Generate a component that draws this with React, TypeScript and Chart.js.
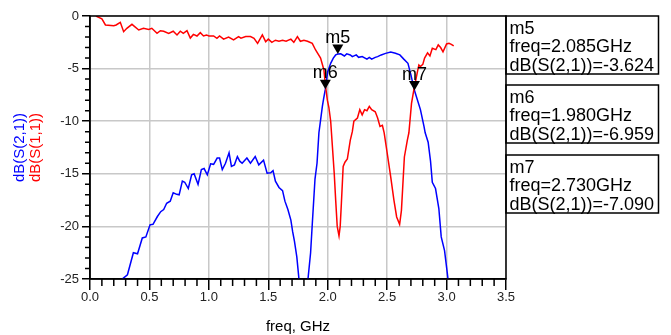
import React, { useEffect, useRef } from 'react';
import { Chart, registerables } from 'chart.js';

Chart.register(...registerables);

// ---- data ----
const s11Freq = [
  0.05, 0.10, 0.13, 0.20, 0.22, 0.255, 0.283, 0.31, 0.353, 0.41, 0.45, 0.494, 0.52, 0.564, 0.592, 0.62,
  0.662, 0.70, 0.732, 0.76, 0.785, 0.816, 0.844, 0.87, 0.90, 0.928, 0.955, 0.98, 1.0, 1.04, 1.068, 1.09,
  1.124, 1.166, 1.208, 1.25, 1.27, 1.31, 1.35, 1.38, 1.41, 1.45, 1.478, 1.50, 1.53, 1.56, 1.59, 1.62,
  1.65, 1.69, 1.715, 1.745, 1.77, 1.80, 1.83, 1.87, 1.898, 1.94, 1.968, 1.982, 1.997, 2.01, 2.025, 2.04,
  2.055, 2.067, 2.08, 2.095, 2.105, 2.115, 2.13, 2.145, 2.165, 2.19, 2.207, 2.22, 2.25, 2.27, 2.29, 2.31,
  2.33, 2.35, 2.37, 2.40, 2.42, 2.44, 2.46, 2.475, 2.50, 2.53, 2.557, 2.58, 2.605, 2.62, 2.63, 2.645,
  2.67, 2.683, 2.705, 2.725, 2.753, 2.767, 2.78, 2.80, 2.815, 2.84, 2.86, 2.88, 2.91, 2.93, 2.95, 2.97,
  3.0, 3.02, 3.04, 3.06,
];
const s11Db = [
  0.0, -0.28, -0.85, -0.92, -0.85, -0.6, -1.49, -1.17, -0.79, -1.33, -1.17, -1.27, -1.17, -1.65, -1.4, -1.45,
  -1.65, -1.45, -1.8, -1.45, -1.65, -1.4, -2.1, -1.75, -1.9, -1.58, -1.9, -1.8, -1.9, -1.9, -2.12, -1.9,
  -2.2, -2.0, -2.28, -1.96, -2.1, -1.95, -1.96, -2.12, -2.6, -1.8, -2.44, -2.2, -2.5, -2.3, -2.4, -2.3,
  -2.4, -2.2, -2.5, -1.96, -2.4, -2.3, -2.4, -2.6, -3.23, -4.0, -5.13, -6.7, -8.0, -8.7, -10.0, -12.5,
  -15.0, -17.5, -20.0, -20.9, -20.0, -17.8, -14.3, -13.9, -13.6, -11.8, -11.0, -10.0, -9.7, -8.9, -9.4, -8.9,
  -9.0, -8.6, -8.9, -9.1, -9.7, -10.5, -10.4, -11.1, -13.0, -15.3, -17.5, -19.1, -19.8, -18.5, -16.5, -13.4,
  -11.8, -11.1, -8.3, -7.0, -5.4, -4.65, -4.8, -4.6, -4.0, -3.5, -3.8, -3.07, -3.2, -2.75, -3.0, -3.4,
  -2.66, -2.6, -2.7, -2.85,
];
const s21Freq = [
  0.25, 0.272, 0.315, 0.365, 0.40, 0.44, 0.47, 0.505, 0.53, 0.567, 0.595, 0.62, 0.645, 0.675, 0.70, 0.73,
  0.75, 0.777, 0.797, 0.827, 0.855, 0.876, 0.909, 0.937, 0.96, 0.987, 1.015, 1.04, 1.07, 1.09, 1.113, 1.14,
  1.17, 1.19, 1.215, 1.24, 1.26, 1.28, 1.32, 1.35, 1.39, 1.42, 1.46, 1.49, 1.52, 1.54, 1.56, 1.59,
  1.62, 1.64, 1.665, 1.69, 1.705, 1.72, 1.74, 1.758, 1.775, 1.82, 1.834, 1.856, 1.87, 1.893, 1.91, 1.926,
  1.94, 1.955, 1.965, 1.98, 2.0, 2.025, 2.047, 2.067, 2.085, 2.11, 2.14, 2.16, 2.19, 2.207, 2.24, 2.26,
  2.29, 2.33, 2.35, 2.37, 2.40, 2.42, 2.45, 2.487, 2.53, 2.57, 2.607, 2.64, 2.675, 2.70, 2.73, 2.78,
  2.81, 2.82, 2.845, 2.865, 2.88, 2.907, 2.935, 2.955, 2.983, 3.01, 3.02,
];
const s21Db = [
  -26.5, -25.0, -24.6, -22.5, -22.6, -21.1, -21.0, -19.85, -19.8, -19.06, -18.6, -18.4, -17.8, -17.6, -16.8, -16.95,
  -17.0, -15.7, -15.8, -16.4, -15.1, -15.0, -16.0, -14.6, -14.5, -15.1, -14.05, -14.1, -13.5, -13.5, -14.6, -14.0,
  -13.0, -14.3, -14.15, -13.36, -13.8, -14.0, -13.5, -14.0, -13.36, -14.15, -13.7, -14.94, -14.9, -14.7, -15.7, -16.3,
  -16.6, -17.6, -18.4, -19.4, -20.5, -21.4, -22.9, -25.0, -28.0, -28.0, -25.0, -22.5, -19.8, -15.5, -14.0, -11.1,
  -9.9, -8.6, -7.9, -6.96, -5.3, -4.5, -4.0, -3.7, -3.62, -3.6, -3.8, -3.6, -3.7, -3.86, -3.7, -3.93,
  -3.86, -4.1, -3.93, -4.1, -3.93, -3.86, -3.7, -3.55, -3.43, -3.54, -3.7, -4.1, -4.5, -5.6, -7.09, -8.9,
  -10.5, -11.1, -12.0, -13.8, -15.8, -16.4, -18.3, -21.0, -22.3, -24.8, -26.0,
];

const markerNames = ['m5', 'm6', 'm7'];
const markerFreq = [2.085, 1.98, 2.73];
const markerDb = [-3.624, -6.959, -7.09];
const markerFreqText = ['freq=2.085GHz', 'freq=1.980GHz', 'freq=2.730GHz'];
const markerValText = ['dB(S(2,1))=-3.624', 'dB(S(2,1))=-6.959', 'dB(S(2,1))=-7.090'];

const xTitle = 'freq, GHz';
const yTitleS21 = 'dB(S(2,1))';
const yTitleS11 = 'dB(S(1,1))';

const FONT = '"Liberation Sans", Arial, Helvetica, sans-serif';
const BLUE = '#0000ff';
const RED = '#ff0000';

const overlayPlugin = {
  id: 'overlay',
  afterDatasetsDraw(chart: any) {
    const { ctx, chartArea: a, scales } = chart;
    const x = scales.x;
    const y = scales.y;
    ctx.save();
    // frame
    ctx.strokeStyle = '#000';
    ctx.lineWidth = 1.5;
    ctx.strokeRect(a.left, a.top, a.right - a.left, a.bottom - a.top);
    // minor ticks
    ctx.beginPath();
    for (let i = 1; i < 35; i++) {
      if (i % 5 === 0) continue;
      const px = x.getPixelForValue(i / 10);
      ctx.moveTo(px, a.bottom);
      ctx.lineTo(px, a.bottom + 7);
    }
    for (let v = -24; v < 0; v++) {
      if (v % 5 === 0) continue;
      const py = y.getPixelForValue(v);
      ctx.moveTo(a.left - 5, py);
      ctx.lineTo(a.left, py);
    }
    ctx.stroke();

    // markers
    ctx.fillStyle = '#000';
    ctx.font = `18px ${FONT}`;
    ctx.textAlign = 'center';
    ctx.textBaseline = 'alphabetic';
    for (let i = 0; i < markerNames.length; i++) {
      const px = x.getPixelForValue(markerFreq[i]);
      const py = y.getPixelForValue(markerDb[i]);
      ctx.beginPath();
      ctx.moveTo(px, py);
      ctx.lineTo(px - 5.5, py - 9.5);
      ctx.lineTo(px + 5.5, py - 9.5);
      ctx.closePath();
      ctx.fill();
      ctx.fillText(markerNames[i], px, py - 11);
    }
    ctx.restore();
  },
  afterDraw(chart: any) {
    const { ctx, chartArea: a } = chart;
    ctx.save();
    // marker readout boxes
    const tops = [0, 69, 139];
    const boxW = 152.5;
    const boxH = 58;
    ctx.lineWidth = 1.5;
    ctx.strokeStyle = '#000';
    ctx.fillStyle = '#000';
    ctx.font = `18px ${FONT}`;
    ctx.textAlign = 'left';
    ctx.textBaseline = 'alphabetic';
    for (let i = 0; i < markerNames.length; i++) {
      const top = a.top + tops[i];
      ctx.strokeRect(a.right, top, boxW, boxH);
      const tx = a.right + 3.5;
      ctx.fillText(markerNames[i], tx, top + 17.5);
      ctx.fillText(markerFreqText[i], tx, top + 36);
      ctx.fillText(markerValText[i], tx, top + 54.5);
    }
    // x title
    ctx.font = `15px ${FONT}`;
    ctx.textAlign = 'center';
    ctx.fillStyle = '#000';
    ctx.fillText(xTitle, (a.left + a.right) / 2, 331);
    // y titles (rotated)
    const cy = (a.top + a.bottom) / 2;
    ctx.save();
    ctx.translate(24, cy);
    ctx.rotate(-Math.PI / 2);
    ctx.fillStyle = BLUE;
    ctx.fillText(yTitleS21, 0, 0);
    ctx.restore();
    ctx.save();
    ctx.translate(40, cy);
    ctx.rotate(-Math.PI / 2);
    ctx.fillStyle = RED;
    ctx.fillText(yTitleS11, 0, 0);
    ctx.restore();
    ctx.restore();
  },
};

export default function App() {
  const canvasRef = useRef<HTMLCanvasElement | null>(null);

  useEffect(() => {
    const canvas = canvasRef.current;
    if (!canvas) return;
    const chart = new Chart(canvas, {
      type: 'line',
      data: {
        datasets: [
          {
            label: 'dB(S(1,1))',
            data: s11Freq.map((f, i) => ({ x: f, y: s11Db[i] })),
            borderColor: RED,
            borderWidth: 1.5,
            pointRadius: 0,
            tension: 0,
            fill: false,
          },
          {
            label: 'dB(S(2,1))',
            data: s21Freq.map((f, i) => ({ x: f, y: s21Db[i] })),
            borderColor: BLUE,
            borderWidth: 1.5,
            pointRadius: 0,
            tension: 0,
            fill: false,
          },
        ],
      },
      options: {
        animation: false,
        responsive: false,
        maintainAspectRatio: false,
        devicePixelRatio: 1,
        layout: { padding: { left: 0, right: 165, top: 16, bottom: 0 } },
        plugins: {
          legend: { display: false },
          tooltip: { enabled: false },
          title: { display: false },
        },
        scales: {
          x: {
            type: 'linear',
            min: 0,
            max: 3.5,
            afterFit: (s: any) => {
              s.height = 56;
            },
            ticks: {
              stepSize: 0.5,
              autoSkip: false,
              maxRotation: 0,
              padding: 0,
              color: '#222',
              font: { family: FONT, size: 13 },
              callback: (v: any) => Number(v).toFixed(1),
            },
            grid: {
              color: '#c8c8c8',
              lineWidth: 1.5,
              tickColor: '#000',
              tickWidth: 1.5,
              tickLength: 11,
            },
            border: { color: '#000', width: 1.5 },
          },
          y: {
            type: 'linear',
            min: -25,
            max: 0,
            afterFit: (s: any) => {
              s.width = 90;
            },
            ticks: {
              stepSize: 5,
              padding: 3,
              color: '#222',
              font: { family: FONT, size: 13 },
              callback: (v: any) => String(v),
            },
            grid: {
              color: '#c8c8c8',
              lineWidth: 1.5,
              tickColor: '#000',
              tickWidth: 1.5,
              tickLength: 8,
            },
            border: { color: '#000', width: 1.5 },
          },
        },
      },
      plugins: [overlayPlugin],
    });
    return () => chart.destroy();
  }, []);

  return (
    <div style={{ position: 'fixed', left: 0, top: 0, width: 671, height: 335, background: '#fff' }}>
      <canvas ref={canvasRef} width={671} height={335} style={{ display: 'block' }} />
    </div>
  );
}
